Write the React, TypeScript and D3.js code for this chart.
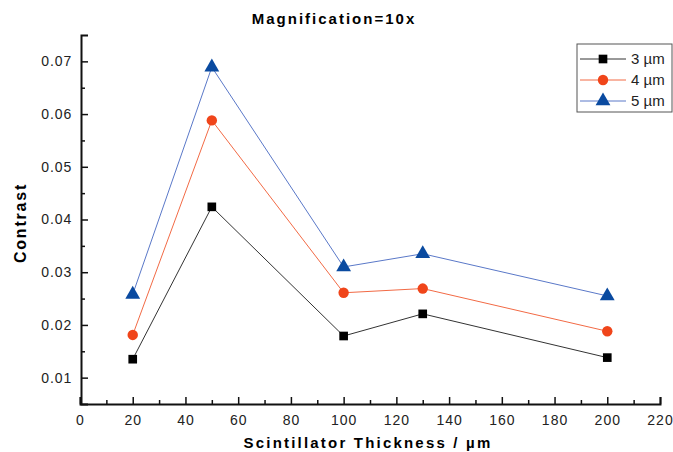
import React, { useRef, useEffect } from 'react';
import * as d3 from 'd3';

// Values
const thickness = [20, 50, 100, 130, 200];
const contrast3 = [0.0135, 0.0424, 0.0179, 0.0221, 0.0138];
const contrast4 = [0.0181, 0.0588, 0.0261, 0.0269, 0.0188];
const contrast5 = [0.0258, 0.0689, 0.031, 0.0335, 0.0255];
const seriesNames = ['3 \u00b5m', '4 \u00b5m', '5 \u00b5m'];
const xTicks = [0, 20, 40, 60, 80, 100, 120, 140, 160, 180, 200, 220];
const yTicks = [0.01, 0.02, 0.03, 0.04, 0.05, 0.06, 0.07];

const lineColors = ['#333333', '#f26a45', '#5a78c8'];
const markColors = ['#000000', '#f0451a', '#0a4aa0'];
const markShapes = [d3.symbolSquare, d3.symbolCircle, d3.symbolTriangle];
const markSizes = [75, 85, 95];

const App = () => {
  const ref = useRef<SVGSVGElement>(null);

  useEffect(() => {
    const svg = d3.select(ref.current);
    svg.selectAll('*').remove();

    const font = 'Liberation Sans, Arial, sans-serif';
    const x = d3.scaleLinear().domain([0, 220]).range([80, 660]);
    const y = d3.scaleLinear().domain([0.005, 0.075]).range([404, 35]);

    // title
    svg.append('text')
      .attr('x', 334).attr('y', 24)
      .attr('text-anchor', 'middle')
      .attr('font-family', font).attr('font-weight', 'bold')
      .attr('font-size', 15).attr('letter-spacing', 2)
      .text('Magnification=10x');

    // x axis, ticks point inside
    const xAxis = svg.append('g').attr('transform', 'translate(0,404)');
    xAxis.call(d3.axisBottom(x).tickValues(xTicks).tickSize(-7).tickFormat(d3.format('d')));
    xAxis.append('g').call(
      d3.axisBottom(x).tickValues(d3.range(10, 220, 20)).tickSize(-4).tickFormat(() => '')
    );
    xAxis.selectAll('.domain').filter((d, i) => i > 0).remove();

    // y axis
    const yAxis = svg.append('g').attr('transform', 'translate(81,0)');
    yAxis.call(d3.axisLeft(y).tickValues(yTicks).tickSize(-7).tickFormat(d3.format('.2f')));
    yAxis.append('g').call(
      d3.axisLeft(y).tickValues(d3.range(0.015, 0.075, 0.01)).tickSize(-4).tickFormat(() => '')
    );
    yAxis.selectAll('.domain').filter((d, i) => i > 0).remove();

    svg.selectAll('.domain').attr('stroke-width', 2).attr('stroke', '#111');
    svg.selectAll('.tick line').attr('stroke-width', 1.5).attr('stroke', '#111');
    svg.selectAll('.tick text')
      .attr('font-family', font).attr('font-size', 14).attr('fill', '#222')
      .attr('letter-spacing', 1);
    xAxis.selectAll('.tick text').attr('dy', '1.25em');
    yAxis.selectAll('.tick text').attr('dx', '-0.4em');

    // axis titles
    svg.append('text')
      .attr('x', 368).attr('y', 448)
      .attr('text-anchor', 'middle')
      .attr('font-family', font).attr('font-weight', 'bold')
      .attr('font-size', 15).attr('letter-spacing', 2.2)
      .text('Scintillator Thickness / \u00b5m');
    svg.append('text')
      .attr('transform', 'translate(26,223) rotate(-90)')
      .attr('text-anchor', 'middle')
      .attr('font-family', font).attr('font-weight', 'bold')
      .attr('font-size', 16).attr('letter-spacing', 1.8)
      .text('Contrast');

    // series
    const series = [contrast3, contrast4, contrast5];
    const line = d3.line<number>().x((d, i) => x(thickness[i])).y(d => y(d));

    series.forEach((vals, s) => {
      svg.append('path')
        .attr('d', line(vals))
        .attr('fill', 'none')
        .attr('stroke', lineColors[s])
        .attr('stroke-width', 1);
      svg.append('g').selectAll('path')
        .data(vals)
        .join('path')
        .attr('transform', (d, i) => `translate(${x(thickness[i])},${y(d)})`)
        .attr('d', d3.symbol().type(markShapes[s]).size(markSizes[s]))
        .attr('fill', markColors[s]);
    });

    // legend
    const legend = svg.append('g');
    legend.append('rect')
      .attr('x', 577).attr('y', 44).attr('width', 95).attr('height', 68)
      .attr('fill', 'white').attr('stroke', '#555').attr('stroke-width', 1);
    seriesNames.forEach((name, s) => {
      const ly = 59 + s * 21;
      legend.append('line')
        .attr('x1', 580).attr('x2', 626).attr('y1', ly).attr('y2', ly)
        .attr('stroke', lineColors[s]).attr('stroke-width', 1);
      legend.append('path')
        .attr('transform', `translate(603,${ly})`)
        .attr('d', d3.symbol().type(markShapes[s]).size(markSizes[s]))
        .attr('fill', markColors[s]);
      legend.append('text')
        .attr('x', 631).attr('y', ly + 5)
        .attr('font-family', font).attr('font-size', 15).attr('fill', '#222')
        .text(name);
    });
  }, []);

  return <svg ref={ref} width={673} height={452} style={{ position: 'absolute', left: 0, top: 0 }} />;
};

export default App;
